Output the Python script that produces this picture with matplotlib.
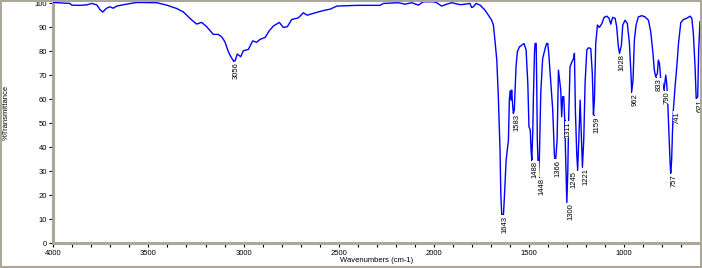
import matplotlib
matplotlib.use("Agg")
import matplotlib.pyplot as plt
from matplotlib.patches import Rectangle
from matplotlib.ticker import MultipleLocator

plt.rcParams['font.family'] = ['Liberation Sans', 'DejaVu Sans']

# spectrum (wavenumber, %T)
wavenumber = [4000, 3912, 3904, 3860, 3825, 3798, 3772, 3755, 3741, 3720, 3702, 3685,
              3667, 3615, 3562, 3457, 3404, 3352, 3317, 3282, 3247, 3220, 3194, 3159,
              3133, 3115, 3098, 3080, 3065, 3054, 3045, 3033, 3015, 3001, 2975, 2952,
              2931, 2914, 2887, 2865, 2843, 2812, 2791, 2770, 2747, 2712, 2686, 2665,
              2624, 2572, 2545, 2510, 2405, 2283, 2265, 2186, 2151, 2116, 2081, 2055,
              2002, 1985, 1959, 1932, 1906, 1862, 1845, 1827, 1810, 1801, 1792, 1778,
              1757, 1731, 1713, 1696, 1687, 1678, 1669, 1661, 1652, 1648, 1643, 1634,
              1629, 1620, 1608, 1603, 1599, 1594, 1591, 1585, 1582, 1577, 1568, 1561,
              1550, 1538, 1526, 1515, 1506, 1500, 1493, 1489, 1485, 1480, 1477, 1471,
              1468, 1462, 1459, 1456, 1450, 1445, 1438, 1428, 1415, 1407, 1401, 1396,
              1386, 1375, 1366, 1359, 1352, 1345, 1340, 1333, 1328, 1323, 1317, 1312,
              1305, 1301, 1296, 1291, 1284, 1274, 1266, 1261, 1256, 1249, 1244, 1238,
              1231, 1226, 1219, 1212, 1205, 1196, 1188, 1175, 1167, 1161, 1156, 1149,
              1140, 1130, 1118, 1105, 1091, 1079, 1070, 1060, 1047, 1039, 1030, 1024,
              1014, 1007, 995, 983, 972, 963, 960, 953, 946, 937, 925, 907,
              890, 872, 860, 849, 841, 834, 825, 820, 814, 807, 799, 790,
              781, 776, 771, 764, 758, 755, 750, 746, 741, 732, 723, 714,
              702, 688, 671, 653, 644, 636, 627, 621, 613, 608, 601]
transmittance = [100.4, 100.0, 99.3, 99.2, 99.4, 100.0, 99.4, 97.5, 96.4, 98.0, 98.6, 98.0,
                 98.9, 99.7, 100.4, 100.3, 99.3, 97.9, 96.5, 93.8, 91.4, 92.1, 90.3, 87.1,
                 87.1, 86.1, 84.0, 79.9, 77.5, 76.2, 76.0, 78.9, 77.8, 80.3, 80.8, 84.4,
                 83.8, 85.0, 85.8, 88.6, 90.6, 92.1, 90.0, 90.3, 93.3, 94.0, 96.1, 95.1,
                 96.1, 97.2, 97.6, 98.9, 99.2, 99.2, 100.0, 100.3, 99.7, 100.3, 99.3, 100.7,
                 100.7, 100.3, 98.9, 99.7, 100.3, 99.5, 99.6, 99.8, 100.0, 98.3, 98.6, 100.0,
                 99.3, 97.2, 95.1, 93.0, 91.0, 84.0, 76.4, 61.1, 38.9, 20.8, 12.0, 11.8,
                 19.4, 34.7, 43.0, 59.7, 63.6, 59.7, 63.9, 56.9, 54.2, 55.6, 73.6, 79.9,
                 81.9, 82.6, 83.3, 80.6, 66.7, 48.6, 47.2, 38.9, 34.7, 46.5, 59.7, 79.2,
                 83.3, 83.3, 65.3, 43.0, 27.8, 36.1, 62.5, 77.0, 81.2, 83.3, 83.3, 79.2,
                 68.0, 55.6, 36.1, 35.4, 43.0, 72.2, 68.8, 63.9, 52.8, 61.1, 61.1, 51.4,
                 29.2, 17.0, 29.2, 52.8, 73.6, 75.7, 77.0, 79.2, 55.6, 37.5, 30.6, 43.0,
                 59.7, 48.6, 31.9, 43.0, 66.7, 80.6, 81.5, 81.2, 70.8, 53.5, 59.7, 83.3,
                 91.0, 90.0, 91.4, 94.2, 94.7, 93.8, 91.4, 94.2, 93.8, 90.3, 81.9, 79.2,
                 82.6, 91.0, 93.0, 91.7, 83.3, 69.4, 63.2, 68.0, 84.7, 91.0, 94.4, 94.9,
                 94.4, 93.0, 88.2, 79.9, 72.2, 69.4, 70.8, 76.4, 75.0, 68.0, 67.4, 63.9,
                 70.1, 66.7, 59.7, 45.8, 33.3, 29.2, 34.7, 45.8, 55.6, 65.3, 73.6, 83.3,
                 92.0, 93.3, 93.8, 94.7, 93.8, 87.5, 73.6, 60.4, 61.1, 80.6, 92.4]

# peak labels
peak_wn = [3056, 1643, 1583, 1488, 1448, 1366, 1311, 1300, 1245, 1221, 1159,
           1028, 962, 833, 790, 757, 741, 621]
peak_t = [76.0, 12.0, 54.2, 34.7, 27.8, 35.4, 51.4, 17.0, 30.6, 31.9, 53.5,
          79.2, 63.2, 69.4, 63.9, 29.2, 55.6, 60.4]

tan = '#ACA899'

fig = plt.figure(figsize=(7.02, 2.68), dpi=100)
ax = fig.add_axes([53.3 / 702, (268 - 243.3) / 268, (700 - 53.3) / 702, (243.3 - 2) / 268])

ax.plot(wavenumber, transmittance, color='#0000FF', lw=1.0, zorder=3)

for w, t in zip(peak_wn, peak_t):
    ax.plot([w, w], [t, t - 3], color='black', lw=0.7, zorder=4)
    side = 'right' if w == 1245 else 'left'
    ax.text(w, t - 0.5, str(w), rotation=90, ha=side, va='top', fontsize=5.5,
            color='black', zorder=5,
            bbox=dict(facecolor='white', edgecolor='none', pad=0.2))

ax.set_xlim(4000, 601)
ax.set_ylim(0, 100.6)
ax.xaxis.set_major_locator(MultipleLocator(500))
ax.xaxis.set_minor_locator(MultipleLocator(100))
ax.yaxis.set_major_locator(MultipleLocator(10))

for side in ['top', 'right']:
    ax.spines[side].set_visible(False)
for side in ['left', 'bottom']:
    ax.spines[side].set_color(tan)
    ax.spines[side].set_linewidth(2.2)

ax.tick_params(which='both', direction='out', color='black', width=0.8,
               labelsize=5.5, pad=1.5)
ax.tick_params(which='major', length=3)
ax.tick_params(which='minor', length=3)

fig.text(6 / 702, 1 - 112 / 268, '%Transmittance', rotation=90, ha='center',
         va='center', fontsize=5.5)
fig.text(376.6 / 702, 1 - 261 / 268, 'Wavenumbers (cm-1)', ha='center',
         va='center', fontsize=5.5)

fig.patches.append(Rectangle((0, 0), 1, 1, transform=fig.transFigure, fill=False,
                             edgecolor=tan, lw=2.9, zorder=10))

fig.savefig('out.png', dpi=100)
